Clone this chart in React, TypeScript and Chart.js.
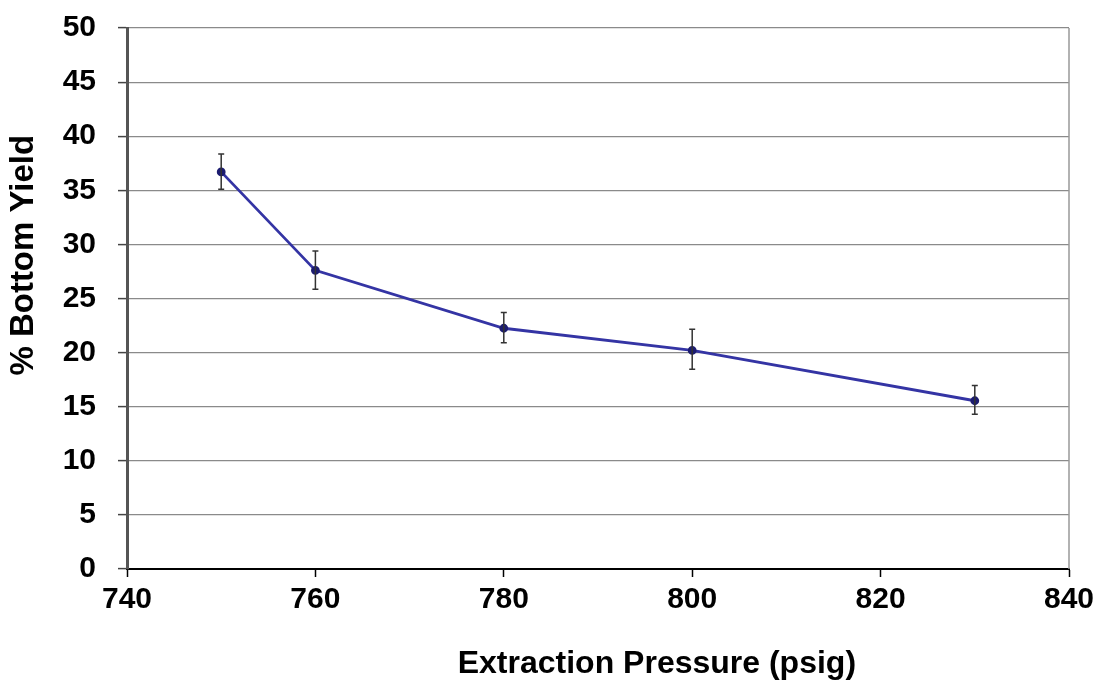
import React, { useEffect, useRef } from "react";
import { Chart, registerables } from "chart.js";

Chart.register(...registerables);

const pressures = [750, 760, 780, 800, 830];
const bottomYield = [36.7, 27.6, 22.25, 20.2, 15.55];
const errorHigh = [38.35, 29.4, 23.7, 22.15, 16.95];
const errorLow = [35.1, 25.85, 20.9, 18.45, 14.3];
const xTickStep = 20;
const yTickStep = 5;
const xTitle = "Extraction Pressure (psig)";
const yTitle = "% Bottom Yield";

const FONT = "'Liberation Sans', Arial, Helvetica, sans-serif";

const errorBarPlugin = {
  id: "errorBars",
  afterDatasetsDraw(chart: any) {
    const ctx = chart.ctx;
    const xs = chart.scales.x;
    const ys = chart.scales.y;
    ctx.save();
    ctx.strokeStyle = "#333333";
    ctx.lineWidth = 1.5;
    for (let i = 0; i < pressures.length; i++) {
      const px = xs.getPixelForValue(pressures[i]);
      const top = ys.getPixelForValue(errorHigh[i]);
      const bot = ys.getPixelForValue(errorLow[i]);
      ctx.beginPath();
      ctx.moveTo(px, top);
      ctx.lineTo(px, bot);
      ctx.moveTo(px - 3, top);
      ctx.lineTo(px + 3, top);
      ctx.moveTo(px - 3, bot);
      ctx.lineTo(px + 3, bot);
      ctx.stroke();
    }
    ctx.restore();
  },
};

const frameAndTitlesPlugin = {
  id: "frameAndTitles",
  beforeDatasetsDraw(chart: any) {
    const { ctx, chartArea } = chart;
    ctx.save();
    ctx.strokeStyle = "#999999";
    ctx.lineWidth = 1.5;
    ctx.beginPath();
    ctx.moveTo(chartArea.right, chartArea.top);
    ctx.lineTo(chartArea.right, chartArea.bottom);
    ctx.stroke();
    ctx.restore();
  },
  afterDraw(chart: any) {
    const { ctx, chartArea } = chart;
    const w = chartArea.right - chartArea.left;
    const h = chartArea.bottom - chartArea.top;
    ctx.save();
    ctx.fillStyle = "#000";
    ctx.font = `bold 32px ${FONT}`;
    ctx.textAlign = "center";
    ctx.textBaseline = "alphabetic";
    ctx.fillText(xTitle, chartArea.left + w * 0.5625, chartArea.bottom + 104);
    ctx.translate(24, chartArea.top + h * 0.42);
    ctx.rotate(-Math.PI / 2);
    ctx.textBaseline = "middle";
    ctx.font = `bold 33px ${FONT}`;
    ctx.fillText(yTitle, 0, 0);
    ctx.restore();
  },
};

export default function App() {
  const ref = useRef<HTMLCanvasElement | null>(null);
  useEffect(() => {
    if (!ref.current) return;
    const chart = new Chart(ref.current, {
      type: "line",
      data: {
        datasets: [
          {
            data: pressures.map((p, i) => ({ x: p, y: bottomYield[i] })),
            borderColor: "#3434a4",
            borderWidth: 2.8,
            pointRadius: 3,
            pointBackgroundColor: "#1c1c70",
            pointBorderColor: "#1c1c70",
            tension: 0,
          },
        ],
      },
      options: {
        responsive: false,
        animation: false,
        layout: { padding: { top: 28, right: 28, left: 0, bottom: 0 } },
        plugins: { legend: { display: false }, tooltip: { enabled: false } },
        scales: {
          x: {
            type: "linear",
            min: 740,
            max: 840,
            ticks: {
              stepSize: xTickStep,
              color: "#000",
              padding: 5,
              font: { family: FONT, size: 30, weight: "bold" },
            },
            grid: {
              drawOnChartArea: false,
              drawTicks: true,
              tickLength: 8,
              tickColor: "#000",
              tickWidth: 1.5,
            },
            border: { color: "#000", width: 2 },
            title: { display: false, text: xTitle },
            afterFit(scale: any) {
              scale.height = 112;
              scale.paddingRight = 0;
              scale.paddingLeft = 0;
            },
          },
          y: {
            min: 0,
            max: 50,
            ticks: {
              stepSize: yTickStep,
              color: "#000",
              padding: 22,
              font: { family: FONT, size: 30, weight: "bold" },
            },
            grid: {
              color: "#8a8a8a",
              lineWidth: 1.2,
              drawTicks: true,
              tickLength: 9,
              tickColor: "#444",
              tickWidth: 1.5,
            },
            border: { color: "#555", width: 3 },
            title: { display: false, text: yTitle },
            afterFit(scale: any) {
              scale.width = 127;
              scale.paddingTop = 0;
              scale.paddingBottom = 0;
            },
          },
        },
      },
      plugins: [frameAndTitlesPlugin, errorBarPlugin],
    } as any);
    return () => chart.destroy();
  }, []);
  return (
    <canvas
      ref={ref}
      width={1097}
      height={681}
      style={{ position: "fixed", left: 0, top: 0, display: "block", background: "#fff" }}
    />
  );
}
